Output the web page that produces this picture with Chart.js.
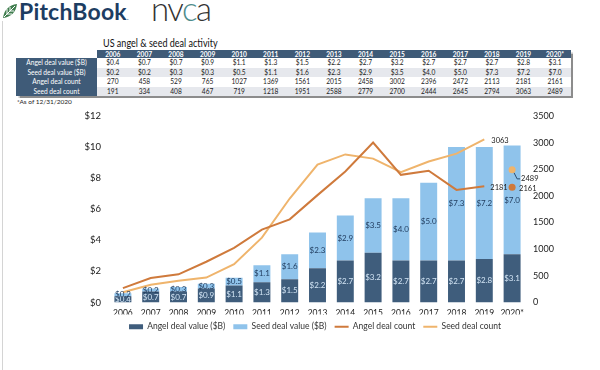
<!DOCTYPE html>
<html>
<head>
<meta charset="utf-8">
<script src="https://cdn.jsdelivr.net/npm/chart.js@4.4.1/dist/chart.umd.min.js"></script>
<style>
  html, body { margin: 0; padding: 0; background: #fff; }
  body { width: 600px; height: 370px; position: relative; overflow: hidden; font-family: Lato, 'Open Sans', sans-serif; }
  #edge { position: absolute; left: 2px; top: 21px; width: 1px; height: 349px; background: #d4d4d4; }
  #leaf { position: absolute; left: 2px; top: 3px; }
  #pb { position: absolute; left: 19px; top: -3px; font-size: 23px; font-weight: 700; color: #1d3d62; letter-spacing: 0.2px; }
  #pb small { font-size: 8px; color: #7a8aa0; }
  #nvca { position: absolute; left: 151px; top: -12px; font-size: 33px; font-weight: 300; color: #333; letter-spacing: -1.5px; }
  #nvca span { color: #4f8c8c; }
  #title { position: absolute; left: 103px; top: 37px; font-size: 10.5px; color: #111; transform: scaleX(0.86); transform-origin: left top; white-space: nowrap; }
  #tbl { position: absolute; left: 16px; top: 50px; border-collapse: collapse; table-layout: fixed; font-size: 6.6px; box-shadow: 1.5px 1.5px 1px rgba(0,0,0,0.45); }
  #tbl td, #tbl th { padding: 0; text-align: center; white-space: nowrap; overflow: hidden; }
  #tbl th { height: 8px; line-height: 8px; background: #3f5b78; color: #fff; font-weight: 700; width: 31.6px; }
  #tbl th.blank { background: #fff; width: 81px; }
  #tbl td { height: 9.5px; line-height: 9.5px; color: #222; }
  #tbl td.lab { background: #3f5b78; color: #fff; }
  #tbl tr.alt td.v { background: #e6e8ed; }
  #note { position: absolute; left: 17px; top: 98px; font-size: 6.5px; color: #222; }
  #wrap { position: absolute; left: 0; top: 100px; width: 600px; height: 243px; }
</style>
</head>
<body>
<div id="edge"></div>
<svg id="leaf" width="16" height="16" viewBox="0 0 16 16">
  <path d="M1 15 C2 7 7 2 15 1 C14 9 9 14 1 15 Z" fill="#3f7d4e"/>
  <path d="M2 14 L13 3 M5 11 L5 6 M8 8 L8 4 M5 11 L10 11 M8 8 L12 8" stroke="#fff" stroke-width="1"/>
</svg>
<div id="pb">PitchBook<small>.</small></div>
<div id="nvca">nv<span>c</span>a</div>
<div id="title">US angel &amp; seed deal activity</div>
<table id="tbl"></table>
<div id="note">*As of 12/31/2020</div>
<div id="wrap"><canvas id="chart" width="600" height="243"></canvas></div>
<script>
const years = ['2006', '2007', '2008', '2009', '2010', '2011', '2012', '2013', '2014', '2015', '2016', '2017', '2018', '2019', '2020*'];
const angelValue = [0.4, 0.7, 0.7, 0.9, 1.1, 1.3, 1.5, 2.2, 2.7, 3.2, 2.7, 2.7, 2.7, 2.8, 3.1];
const seedValue = [0.2, 0.2, 0.3, 0.3, 0.5, 1.1, 1.6, 2.3, 2.9, 3.5, 4.0, 5.0, 7.3, 7.2, 7.0];
const angelCount = [270, 458, 529, 765, 1027, 1369, 1561, 2015, 2458, 3002, 2396, 2472, 2113, 2181, 2161];
const seedCount = [191, 334, 408, 467, 719, 1218, 1951, 2588, 2779, 2700, 2444, 2645, 2794, 3063, 2489];
const valueTicks = [0, 2, 4, 6, 8, 10, 12];
const countTicks = [0, 500, 1000, 1500, 2000, 2500, 3000, 3500];

const ANGEL_BAR = '#3f5d7c';
const SEED_BAR = '#8fc3eb';
const ANGEL_LINE = '#cf7a3c';
const SEED_LINE = '#efb46c';

// table above the chart
const money = v => '$' + v.toFixed(1);
const rows = [
  ['Angel deal value ($B)', angelValue.map(money)],
  ['Seed deal value ($B)', seedValue.map(money)],
  ['Angel deal count', angelCount.map(String)],
  ['Seed deal count', seedCount.map(String)]
];
let html = '<tr><th class="blank"></th>' + years.map(y => '<th>' + y + '</th>').join('') + '</tr>';
rows.forEach((r, i) => {
  html += '<tr' + (i % 2 ? ' class="alt"' : '') + '><td class="lab">' + r[0] + '</td>' +
    r[1].map(v => '<td class="v">' + v + '</td>').join('') + '</tr>';
});
document.getElementById('tbl').innerHTML = html;

// value labels on bars and line ends
const labelPlugin = {
  id: 'valueLabels',
  afterDatasetsDraw(chart) {
    const ctx = chart.ctx;
    ctx.save();
    ctx.font = '8px Lato';
    ctx.textAlign = 'center';
    ctx.textBaseline = 'middle';
    [0, 1].forEach(di => {
      const vals = chart.data.datasets[di].data;
      chart.getDatasetMeta(di).data.forEach((bar, i) => {
        ctx.fillStyle = di === 0 ? '#d3e5f5' : '#1f3a5c';
        ctx.fillText(money(vals[i]), bar.x, (bar.y + bar.base) / 2);
      });
    });
    ctx.fillStyle = '#222';
    ctx.textAlign = 'left';
    ctx.font = '7.5px Lato';
    const last = years.length - 1;
    const a = chart.getDatasetMeta(2).data;
    const s = chart.getDatasetMeta(3).data;
    ctx.fillText(String(angelCount[last - 1]), a[last - 1].x + 6, a[last - 1].y + 1);
    ctx.fillText(String(seedCount[last - 1]), s[last - 1].x + 7, s[last - 1].y + 1);
    ctx.fillText(String(angelCount[last]), a[last].x + 7, a[last].y + 1);
    const p = s[last];
    ctx.strokeStyle = '#2d4d70';
    ctx.lineWidth = 1;
    ctx.beginPath();
    ctx.moveTo(p.x + 2, p.y + 3);
    ctx.lineTo(p.x + 5, p.y + 9);
    ctx.lineTo(p.x + 8, p.y + 9);
    ctx.stroke();
    ctx.fillText(String(seedCount[last]), p.x + 9, p.y + 9);
    ctx.restore();
  }
};

Chart.defaults.font.family = 'Lato';
Chart.defaults.font.size = 9;
Chart.defaults.color = '#222';

const dot = c => c.dataIndex === years.length - 1 ? 3.5 : 0;
const gap = c => c.p1DataIndex === years.length - 1 ? 'transparent' : undefined;

new Chart(document.getElementById('chart'), {
  data: {
    labels: years,
    datasets: [
      { type: 'bar', label: 'Angel deal value ($B)', data: angelValue, backgroundColor: ANGEL_BAR, yAxisID: 'y', order: 2, categoryPercentage: 1, barPercentage: 0.61 },
      { type: 'bar', label: 'Seed deal value ($B)', data: seedValue, backgroundColor: SEED_BAR, yAxisID: 'y', order: 2, categoryPercentage: 1, barPercentage: 0.61 },
      { type: 'line', label: 'Angel deal count', data: angelCount, borderColor: ANGEL_LINE, backgroundColor: ANGEL_LINE, borderWidth: 2, yAxisID: 'y1', order: 1, tension: 0, pointRadius: dot, pointBorderWidth: 0, segment: { borderColor: gap } },
      { type: 'line', label: 'Seed deal count', data: seedCount, borderColor: SEED_LINE, backgroundColor: SEED_LINE, borderWidth: 2, yAxisID: 'y1', order: 1, tension: 0, pointRadius: dot, pointBorderWidth: 0, segment: { borderColor: gap } }
    ]
  },
  options: {
    responsive: false,
    animation: false,
    events: [],
    layout: { padding: { top: 16, bottom: 2, left: 30 } },
    scales: {
      x: {
        stacked: true, grid: { display: false, drawTicks: false }, border: { display: false },
        afterFit: s => { s.height = 12; },
        ticks: { padding: 6, color: '#222', font: { size: 8.5 }, autoSkip: false, maxRotation: 0, minRotation: 0 }
      },
      y: {
        stacked: true, position: 'left', min: 0, max: 12,
        grid: { display: false, drawTicks: false }, border: { display: false },
        afterBuildTicks: s => { s.ticks = valueTicks.map(v => ({ value: v })); },
        afterFit: s => { s.width = 79; },
        ticks: { padding: 8, font: { size: 9.5 }, callback: v => '$' + v }
      },
      y1: {
        position: 'right', min: 0, max: 3500,
        grid: { display: false, drawTicks: false }, border: { display: false },
        afterBuildTicks: s => { s.ticks = countTicks.map(v => ({ value: v })); },
        afterFit: s => { s.width = 74; },
        ticks: { padding: 7, callback: v => String(v) }
      }
    },
    plugins: {
      tooltip: { enabled: false },
      legend: {
        position: 'bottom',
        labels: {
          usePointStyle: true, pointStyleWidth: 14, boxHeight: 5, padding: 8,
          color: '#333', font: { size: 8.5 },
          sort: (a, b) => a.datasetIndex - b.datasetIndex,
          generateLabels: chart => Chart.defaults.plugins.legend.labels.generateLabels(chart).map(l => {
            const ds = chart.data.datasets[l.datasetIndex];
            l.pointStyle = ds.type === 'bar' ? 'rect' : 'line';
            l.fillStyle = ds.backgroundColor;
            l.strokeStyle = ds.type === 'bar' ? ds.backgroundColor : ds.borderColor;
            l.lineWidth = ds.type === 'bar' ? 0 : 2;
            return l;
          })
        }
      }
    }
  },
  plugins: [labelPlugin]
});
</script>
</body>
</html>
